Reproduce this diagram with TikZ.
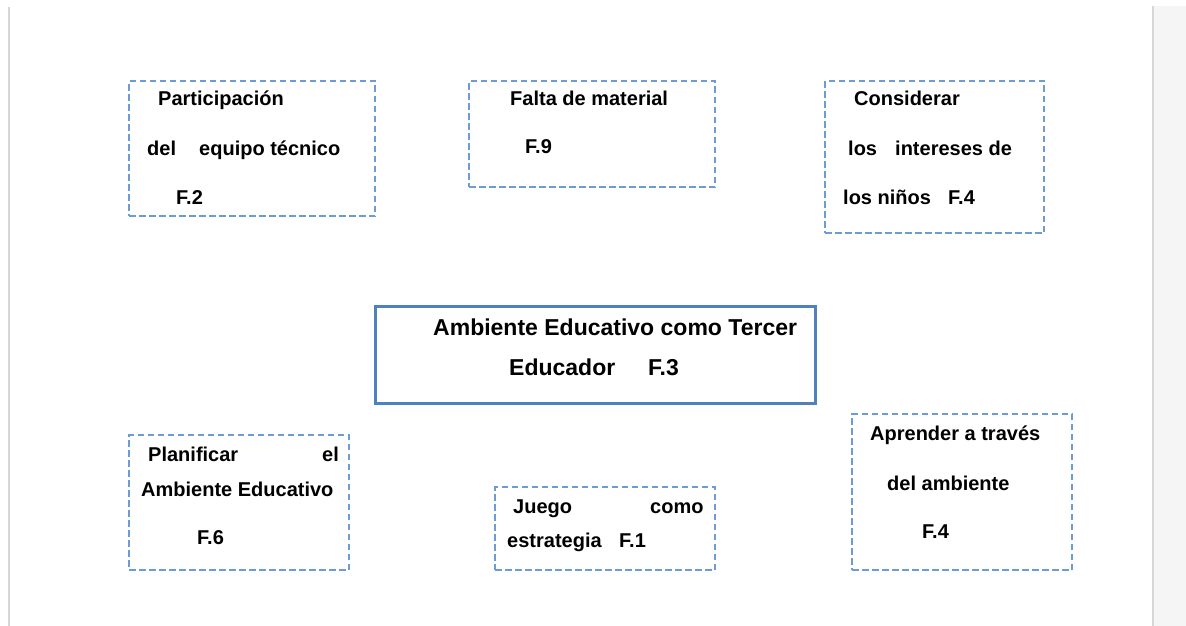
\documentclass[tikz,border=0pt]{standalone}
\usepackage{fontspec}
\setmainfont{Liberation Sans}
\begin{document}
\begin{tikzpicture}[x=1pt,y=-1pt,
  dbox/.style={draw=dashblue, line width=1.4pt, dash pattern=on 6.5pt off 3.5pt, inner sep=0pt, rectangle},
  mbox/.style={draw=mainblue, line width=3pt, inner sep=0pt, rectangle},
  txt/.style={anchor=base west, inner sep=0pt, font=\fontsize{20}{24}\selectfont\bfseries},
  mtxt/.style={anchor=base west, inner sep=0pt, font=\fontsize{23}{27}\selectfont\bfseries}]
\definecolor{dashblue}{RGB}{108,155,214}
\definecolor{mainblue}{RGB}{79,129,189}
\definecolor{pagegray}{RGB}{245,245,245}
\definecolor{edgegray}{RGB}{215,215,215}
\useasboundingbox[fill=white] (0,0) rectangle (1186,626);
% page edges
\fill[pagegray] (1154,6) rectangle (1186,626);
\draw[edgegray, line width=2pt] (1153,6) -- (1153,626);
\draw[edgegray, line width=2pt] (9,7) -- (9,626);
% boxes
\node[dbox, minimum width=246, minimum height=135] (b1) at (252,148.5) {};
\node[dbox, minimum width=246, minimum height=106] (b2) at (592,134) {};
\node[dbox, minimum width=219, minimum height=152] (b3) at (934.5,157) {};
\node[mbox, minimum width=440, minimum height=97] (c) at (595,354.5) {};
\node[dbox, minimum width=220, minimum height=135] (b4) at (239,502.5) {};
\node[dbox, minimum width=220, minimum height=83] (b5) at (605,528.5) {};
\node[dbox, minimum width=220, minimum height=156] (b6) at (962,492) {};
% texts
\node[txt] (t1a) at (158,106) {Participación};
\node[txt] (t1b) at (147,155) {del};
\node[txt] (t1c) at (199,155) {equipo técnico};
\node[txt] (t1d) at (176,204) {F.2};
\node[txt] (t2a) at (510,105) {Falta de material};
\node[txt] (t2b) at (525,153) {F.9};
\node[txt] (t3a) at (854,105) {Considerar};
\node[txt] (t3b) at (848,155) {los};
\node[txt] (t3c) at (895,155) {intereses de};
\node[txt] (t3d) at (843,204) {los niños};
\node[txt] (t3e) at (948,204) {F.4};
\node[mtxt] (tca) at (433,335) {Ambiente Educativo como Tercer};
\node[mtxt] (tcb) at (509,375) {Educador};
\node[mtxt] (tcc) at (648,375) {F.3};
\node[txt] (t4a) at (148,461) {Planificar};
\node[txt] (t4b) at (322,461) {el};
\node[txt] (t4c) at (141,496) {Ambiente Educativo};
\node[txt] (t4d) at (197,544) {F.6};
\node[txt] (t5a) at (513,513) {Juego};
\node[txt] (t5b) at (650,513) {como};
\node[txt] (t5c) at (507,547) {estrategia};
\node[txt] (t5d) at (619,547) {F.1};
\node[txt] (t6a) at (870,440) {Aprender a través};
\node[txt] (t6b) at (887,490) {del ambiente};
\node[txt] (t6c) at (922,538) {F.4};
\end{tikzpicture}
\end{document}
